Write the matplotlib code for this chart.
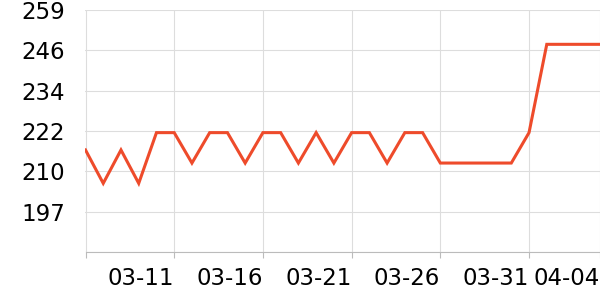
import pandas as pd
import matplotlib
matplotlib.use('Agg')
import matplotlib.pyplot as plt

# Datos
fechas = pd.date_range('2024-03-06', '2024-04-04', freq='D')
valores = [216.2, 206.0, 216.2, 206.0, 221.5, 221.5, 212.2, 221.5, 221.5, 212.2,
           221.5, 221.5, 212.2, 221.5, 212.2, 221.5, 221.5, 212.2, 221.5, 221.5,
           212.2, 212.2, 212.2, 212.2, 212.2, 221.5, 248.5, 248.5, 248.5, 248.5]
y_ticks = [185, 197.33, 209.67, 222, 234.33, 246.67, 259]
y_labels = ['', '197', '210', '222', '234', '246', '259']
x_ticks = pd.to_datetime(['2024-03-06', '2024-03-11', '2024-03-16', '2024-03-21',
                          '2024-03-26', '2024-03-31', '2024-04-04'])
x_labels = ['', '03-11', '03-16', '03-21', '03-26', '03-31', '04-04']

fig = plt.figure(figsize=(6, 3), dpi=100)
ax = fig.add_axes([0.1425, 0.16, 0.8575, 0.8067])

ax.plot(fechas, valores, color='#ee4b2b', linewidth=2.2, solid_joinstyle='miter', zorder=3)

ax.set_xlim(fechas[0], fechas[-1])
ax.set_ylim(185, 259)
ax.set_yticks(y_ticks)
ax.set_yticklabels(y_labels)
ax.set_xticks(x_ticks)
ax.set_xticklabels(x_labels, ha='right')

ax.grid(True, color='#dddddd', linewidth=0.8)
for s in ['top', 'right', 'left']:
    ax.spines[s].set_visible(False)
ax.spines['bottom'].set_color('#bbbbbb')
ax.tick_params(axis='y', length=0, pad=14.8, labelsize=16.5, colors='black')
ax.tick_params(axis='x', length=4, width=0.8, color='#bbbbbb', pad=7, labelsize=16.5)

fig.savefig('out.png', dpi=100)
